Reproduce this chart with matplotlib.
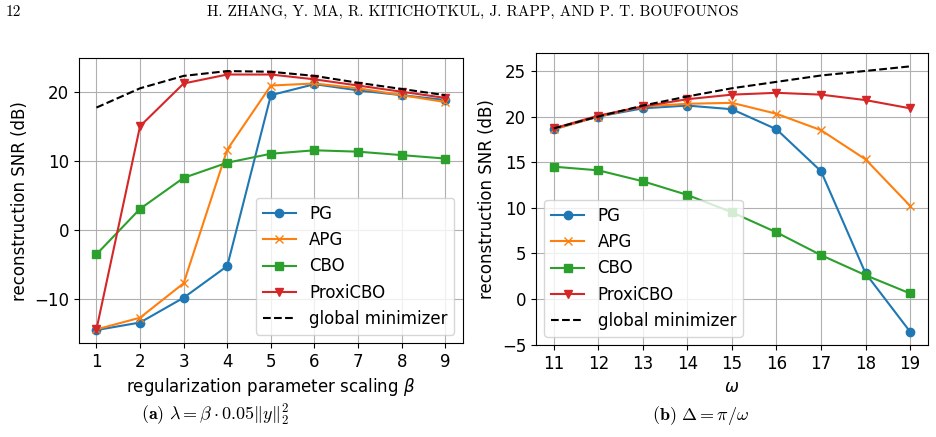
import matplotlib
matplotlib.use("Agg")
import matplotlib.pyplot as plt
from matplotlib.ticker import MultipleLocator

# data
beta = [1, 2, 3, 4, 5, 6, 7, 8, 9]
pg_a = [-14.5, -13.4, -9.8, -5.2, 19.6, 21.2, 20.3, 19.6, 18.9]
apg_a = [-14.4, -12.7, -7.7, 11.7, 21.0, 21.3, 20.6, 19.6, 18.6]
cbo_a = [-3.5, 3.1, 7.6, 9.8, 11.1, 11.6, 11.4, 10.9, 10.4]
proxi_a = [-14.4, 15.1, 21.3, 22.6, 22.6, 21.9, 21.0, 20.1, 19.2]
glob_a = [17.8, 20.6, 22.4, 23.1, 23.0, 22.4, 21.4, 20.5, 19.6]

omega = [11, 12, 13, 14, 15, 16, 17, 18, 19]
pg_b = [18.6, 20.0, 20.9, 21.2, 20.8, 18.6, 14.0, 2.8, -3.6]
apg_b = [18.6, 20.0, 21.1, 21.4, 21.5, 20.3, 18.5, 15.3, 10.2]
cbo_b = [14.5, 14.1, 12.9, 11.4, 9.5, 7.3, 4.8, 2.6, 0.6]
proxi_b = [18.7, 20.1, 21.1, 21.9, 22.4, 22.6, 22.4, 21.8, 20.9]
glob_b = [18.7, 20.0, 21.2, 22.2, 23.1, 23.8, 24.5, 25.0, 25.5]

plt.rcParams["font.size"] = 12

fig = plt.figure(figsize=(9.36, 4.37), dpi=100)
ax1 = fig.add_axes([0.0844, 0.215, 0.410, 0.652])
ax2 = fig.add_axes([0.5726, 0.2105, 0.4188, 0.668])


def draw(ax, x, pg, apg, cbo, proxi, glob, loc):
    ax.plot(x, pg, marker="o", color="tab:blue", label="PG")
    ax.plot(x, apg, marker="x", color="tab:orange", label="APG")
    ax.plot(x, cbo, marker="s", color="tab:green", label="CBO")
    ax.plot(x, proxi, marker="v", color="tab:red", label="ProxiCBO")
    ax.plot(x, glob, "k--", label="global minimizer")
    ax.set_xticks(x)
    ax.set_ylabel("reconstruction SNR (dB)")
    ax.grid(True)
    ax.legend(loc=loc)


draw(ax1, beta, pg_a, apg_a, cbo_a, proxi_a, glob_a, "lower right")
ax1.set_xlabel(r"regularization parameter scaling $\beta$")
ax1.yaxis.set_major_locator(MultipleLocator(10))

draw(ax2, omega, pg_b, apg_b, cbo_b, proxi_b, glob_b, "lower left")
ax2.set_xlabel(r"$\omega$")
ax2.yaxis.set_major_locator(MultipleLocator(5))

# page header and sub-captions
plt.rcParams["mathtext.fontset"] = "cm"
fig.text(0.006, 0.972, "12", fontsize=11, family="cmr10", va="center")
fig.text(0.505, 0.972, "H. ZHANG, Y. MA, R. KITICHOTKUL, J. RAPP, AND P. T. BOUFOUNOS",
         fontsize=11, family="cmr10", ha="center", va="center")
fig.text(0.23, 0.05, r"$\mathbf{(a)}\ \lambda = \beta \cdot 0.05\|y\|_2^2$",
         fontsize=13, ha="center", va="center")
fig.text(0.748, 0.05, r"$\mathbf{(b)}\ \Delta = \pi/\omega$",
         fontsize=13, ha="center", va="center")

fig.savefig("out.png", dpi=100)
